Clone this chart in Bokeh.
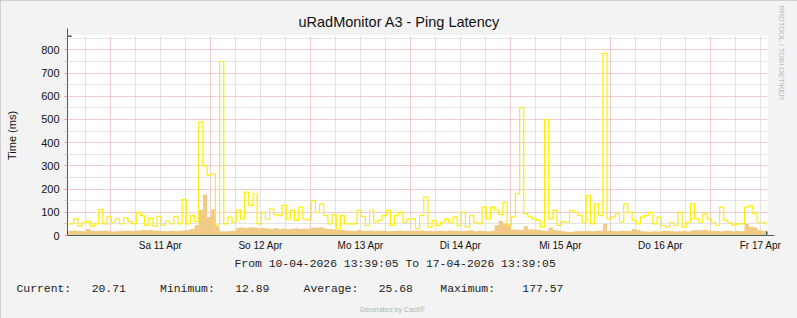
from bokeh.plotting import figure
from bokeh.models import Range1d, FixedTicker, Title, Arrow, NormalHead, ColumnDataSource
from bokeh.embed import file_html
from bokeh.resources import INLINE

# ---------------- data ----------------
TITLE = "uRadMonitor A3 - Ping Latency"
Y_LABEL = "Time (ms)"
START = "10-04-2026 13:39:05"
END = "17-04-2026 13:39:05"
DAY_LABELS = ["Sa 11 Apr", "So 12 Apr", "Mo 13 Apr", "Di 14 Apr",
              "Mi 15 Apr", "Do 16 Apr", "Fr 17 Apr"]
Y_TICKS = [0, 100, 200, 300, 400, 500, 600, 700, 800]
STAT_NAMES = ["Current:", "Minimum:", "Average:", "Maximum:"]
STAT_VALUES = ["20.71", "12.89", "25.68", "177.57"]

# hourly samples over the week (ms)
ping_max = [
    50, 50, 72, 40, 57, 60, 40, 50, 112, 50,
    82, 57, 72, 50, 76, 60, 50, 100, 86, 45,
    75, 40, 82, 45, 62, 50, 82, 50, 155, 50,
    86, 60, 490, 300, 259, 265, 45, 750, 50, 79,
    57, 110, 70, 187, 130, 180, 50, 100, 70, 115,
    90, 86, 130, 70, 108, 65, 122, 70, 67, 150,
    100, 136, 86, 50, 90, 29, 86, 50, 50, 50,
    110, 82, 43, 110, 57, 65, 86, 108, 43, 86,
    100, 57, 72, 72, 29, 86, 165, 36, 65, 43,
    57, 72, 55, 80, 43, 100, 36, 86, 57, 50,
    122, 72, 122, 110, 90, 143, 43, 80, 180, 550,
    93, 80, 72, 65, 36, 500, 72, 108, 43, 60,
    57, 108, 100, 86, 57, 172, 50, 136, 86, 785,
    72, 80, 93, 57, 136, 100, 65, 50, 79, 86,
    100, 50, 79, 43, 36, 57, 43, 100, 36, 57,
    136, 72, 57, 93, 72, 57, 43, 122, 65, 55,
    45, 50, 50, 122, 129, 93, 57, 57, 50,
]
ping_avg = [
    19, 20, 22, 19, 18, 28, 20, 19, 21, 22,
    19, 17, 18, 20, 21, 20, 19, 22, 24, 23,
    24, 21, 20, 19, 18, 20, 19, 21, 22, 24,
    28, 45, 110, 177, 80, 112, 40, 18, 17, 19,
    20, 33, 35, 32, 36, 34, 31, 33, 30, 29,
    32, 28, 30, 27, 29, 31, 28, 30, 29, 35,
    33, 36, 30, 28, 27, 25, 24, 22, 20, 19,
    24, 21, 20, 22, 19, 20, 21, 18, 19, 20,
    22, 19, 20, 21, 20, 22, 19, 20, 18, 21,
    20, 19, 22, 20, 21, 19, 20, 23, 18, 20,
    19, 18, 20, 45, 62, 52, 48, 26, 25, 24,
    40, 27, 26, 25, 22, 21, 34, 24, 20, 18,
    16, 15, 18, 19, 18, 20, 18, 19, 20, 50,
    20, 19, 18, 20, 21, 19, 28, 25, 18, 17,
    16, 18, 17, 19, 20, 18, 17, 18, 19, 17,
    22, 24, 23, 25, 22, 20, 19, 18, 20, 19,
    18, 19, 18, 50, 38, 35, 24, 20, 21,
]

# ---------------- derived coordinates ----------------
hh, mm, ss = [int(v) for v in START.split(" ")[1].split(":")]
OFFSET = 24 - (hh + mm / 60 + ss / 3600)      # hours from start to first midnight
N_HOURS = len(ping_max) - 1
x = [i - OFFSET for i in range(len(ping_max))]   # hours relative to first midnight
src = ColumnDataSource(dict(x=x, ymax=ping_max, yavg=ping_avg,
                            zero=[0] * len(x)))

X0, X1 = -OFFSET, N_HOURS - OFFSET
Y1 = 862

AXIS_COL = "#3E6358"
MGRID = "#E39B9B"
GRID = "#C9C9C9"
BG = "#F3F3F3"

p = figure(width=797, height=318, output_backend="svg", toolbar_location=None,
           x_range=Range1d(X0, X1), y_range=Range1d(0, Y1),
           min_border_left=67, min_border_right=30, min_border_top=35,
           min_border_bottom=83, border_fill_color=BG,
           background_fill_color="white", outline_line_color=None)
p.styles = {"outline": "1px solid #C6C6C6", "outline-offset": "-1px"}

# glyphs
p.varea_step(x="x", y1="zero", y2="yavg", step_mode="center", source=src,
             fill_color="#F2CA87")
p.step(x="x", y="ymax", mode="center", source=src, line_color="#FFEE00",
       line_width=1.2)

# x axis: labels at noon, grid at midnight / every 6 h
noons = [12 + 24 * k for k in range(len(DAY_LABELS))]
mids = [24 * k for k in range(len(DAY_LABELS))]
six = [h for h in range(-6, int(X1) + 1, 6) if h % 24 != 0]
p.xaxis.ticker = FixedTicker(ticks=noons)
p.xaxis.major_label_overrides = {n: lab for n, lab in zip(noons, DAY_LABELS)}
p.xaxis.major_tick_line_color = None
p.xaxis.minor_tick_line_color = None
p.xaxis.major_tick_out = 0
p.xaxis.major_tick_in = 0
p.xaxis.minor_tick_out = 0
p.xaxis.minor_tick_in = 0
p.xaxis.axis_line_color = AXIS_COL
p.xaxis.major_label_standoff = 4
p.xaxis.major_label_text_font = "Liberation Sans"
p.xaxis.major_label_text_font_size = "10px"
p.xaxis.major_label_text_color = "#111111"
p.xgrid.ticker = FixedTicker(ticks=mids, minor_ticks=six)
p.xgrid.grid_line_color = MGRID
p.xgrid.grid_line_dash = "1 1"
p.xgrid.minor_grid_line_color = GRID
p.xgrid.minor_grid_line_dash = "1 1"

# y axis
p.yaxis.ticker = FixedTicker(ticks=Y_TICKS,
                             minor_ticks=[t + 50 for t in Y_TICKS])
p.yaxis.axis_line_color = AXIS_COL
p.yaxis.major_tick_line_color = MGRID
p.yaxis.major_tick_in = 0
p.yaxis.major_tick_out = 3
p.yaxis.minor_tick_line_color = GRID
p.yaxis.minor_tick_in = 0
p.yaxis.minor_tick_out = 3
p.yaxis.major_label_standoff = 5
p.yaxis.major_label_text_font = "Liberation Sans"
p.yaxis.major_label_text_font_size = "11px"
p.yaxis.major_label_text_color = "#111111"
p.yaxis.axis_label = Y_LABEL
p.yaxis.axis_label_text_font = "Liberation Sans"
p.yaxis.axis_label_text_font_size = "11px"
p.yaxis.axis_label_text_font_style = "normal"
p.yaxis.axis_label_text_color = "#111111"
p.yaxis.axis_label_standoff = 20
p.ygrid.grid_line_color = MGRID
p.ygrid.grid_line_dash = "1 1"
p.ygrid.minor_grid_line_color = GRID
p.ygrid.minor_grid_line_dash = "1 1"

# texts as titles in the border panels
NB = "\u00a0"


def title(text, place, size, font="Liberation Sans", color="#111111",
          offset=0, standoff=0, align="left", valign="bottom"):
    p.add_layout(Title(text=text, text_font=font, text_font_size=size,
                       text_font_style="normal", text_color=color,
                       align=align, offset=offset, standoff=standoff,
                       vertical_align=valign), place)


title(TITLE, "above", "14.5px", offset=231, standoff=11)
title("From %s To %s" % (START, END), "below", "11.4px",
      font="Liberation Mono", color="#222222", offset=167, standoff=4)
legend = (STAT_NAMES[0] + NB * 3 + STAT_VALUES[0] + NB * 5 +
          STAT_NAMES[1] + NB * 3 + STAT_VALUES[1] + NB * 5 +
          STAT_NAMES[2] + NB * 3 + STAT_VALUES[2] + NB * 4 +
          STAT_NAMES[3] + NB * 4 + STAT_VALUES[3])
title(legend, "below", "11.4px", font="Liberation Mono", color="#222222",
      offset=-51, standoff=18)
title("Generated by Cacti\u00ae", "below", "7px", color="#B4B4B4",
      offset=292, standoff=0)
title("RRDTOOL / TOBI OETIKER", "right", "7.5px", color="#BBBBBB",
      offset=-30, standoff=16, valign="middle")

# axis arrows
hours_per_px = (X1 - X0) / 700.0
ms_per_px = Y1 / 200.0
p.add_layout(Arrow(end=NormalHead(size=8, fill_color=AXIS_COL, line_color=AXIS_COL),
                   x_start=X1, y_start=0, x_end=X1 + 7 * hours_per_px, y_end=0,
                   line_color=AXIS_COL, line_width=1))
p.add_layout(Arrow(end=NormalHead(size=8, fill_color=AXIS_COL, line_color=AXIS_COL),
                   x_start=X0, y_start=Y1, x_end=X0, y_end=Y1 + 7 * ms_per_px,
                   line_color=AXIS_COL, line_width=1))

open("out.html", "w").write(file_html(p, INLINE))
